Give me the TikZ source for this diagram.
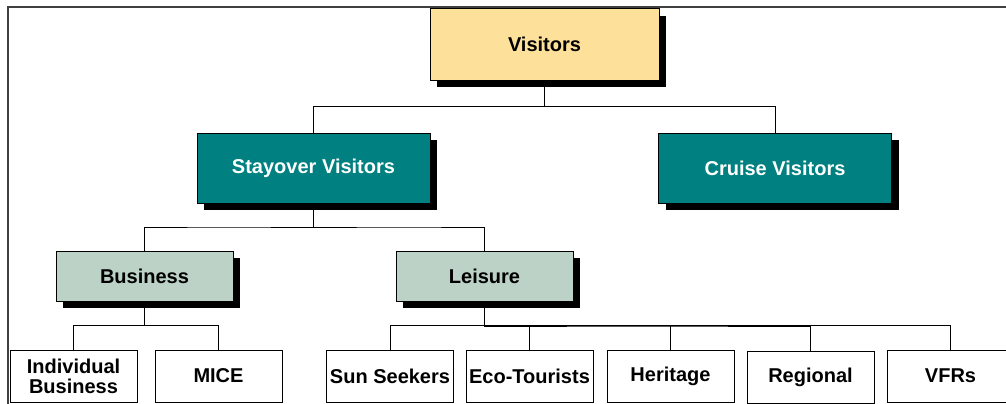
\documentclass[tikz,border=0pt]{standalone}
\usepackage{fontspec}
\setmainfont{Liberation Sans}
\usetikzlibrary{calc,shadows}

\definecolor{visitorgold}{RGB}{253,224,154}
\definecolor{stayteal}{RGB}{0,128,128}
\definecolor{segsage}{RGB}{188,210,198}

\begin{document}
\begin{tikzpicture}[
x=1pt, y=-1pt,
box/.style={draw=black, line width=1pt, align=center, inner sep=1pt,
  font=\fontsize{20}{20}\selectfont\bfseries},
shadowed/.style={box, drop shadow={shadow xshift=7pt, shadow yshift=-7pt,
  fill=black, opacity=1}},
topbox/.style={shadowed, fill=visitorgold, minimum width=229pt, minimum height=71pt},
groupbox/.style={shadowed, fill=stayteal, text=white, minimum width=233pt, minimum height=70pt},
segbox/.style={shadowed, fill=segsage, minimum width=177pt, minimum height=50pt},
leafbox/.style={box, fill=white, minimum width=127pt, minimum height=52pt},
link/.style={draw=black, line width=1pt},
frame/.style={draw=black!75, line width=1.5pt}]

\useasboundingbox[fill=white] (0,0) rectangle (1006,404);

\draw[frame] (8,404) -- (8,7) -- (1006,7);

\node[topbox] (vis) at (544.5,44.5) {Visitors};

\node[groupbox] (stay) at (313.5,168) {Stayover Visitors};
\node[groupbox] (cruise) at (775,168) {Cruise Visitors};

\node[segbox] (bus) at (144.5,276) {Business};
\node[segbox] (leis) at (484.5,276) {Leisure};

\node[leafbox] (indiv) at (73.5,376) {Individual\\Business};
\node[leafbox] (mice) at (218.5,376) {MICE};
\node[leafbox] (sun) at (390,376) {Sun Seekers};
\node[leafbox] (eco) at (529.5,376) {Eco-Tourists};
\node[leafbox] (herit) at (670.5,376) {Heritage};
\node[leafbox] (region) at (810.5,377) {Regional};
\node[leafbox] (vfr) at (950.5,376) {VFRs};

\foreach \p/\c in {vis/stay, vis/cruise, stay/bus, stay/leis, bus/indiv, bus/mice,
  leis/sun, leis/eco, leis/herit, leis/region, leis/vfr}
  \draw[link] (\p.south) |- ($(\p.south)!.5!(\c.north)$) -| (\c.north);
\end{tikzpicture}
\end{document}
